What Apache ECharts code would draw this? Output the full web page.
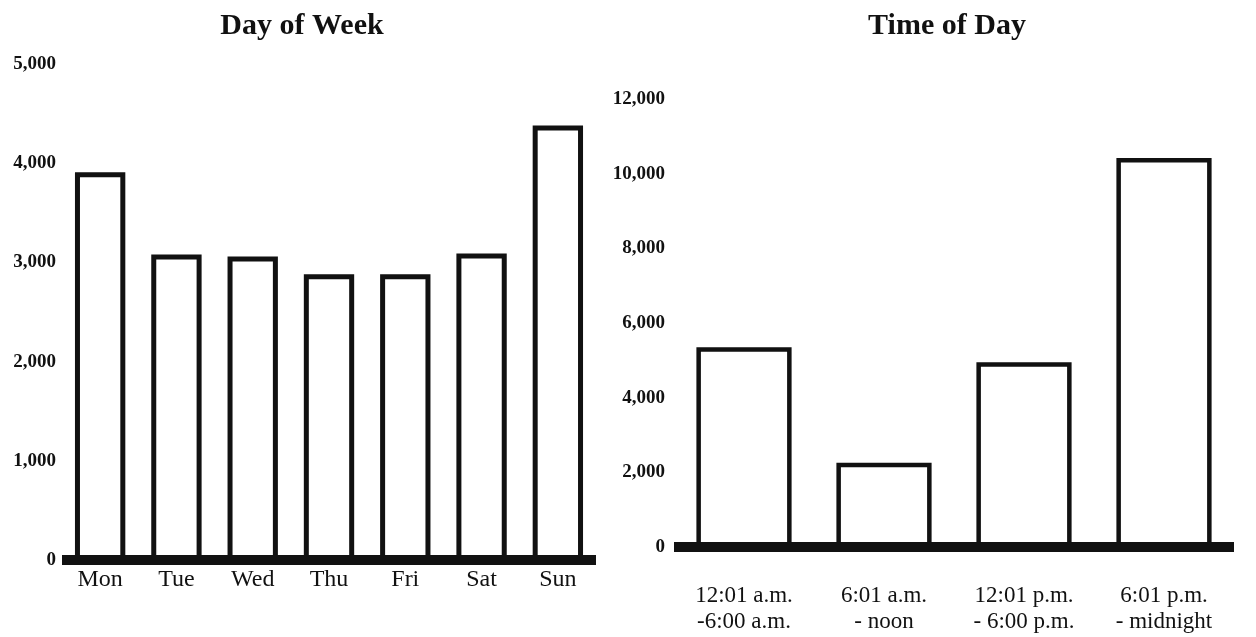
<!DOCTYPE html>
<html>
<head>
<meta charset="utf-8">
<script src="https://cdn.jsdelivr.net/npm/echarts@6/dist/echarts.min.js"></script>
<style>
html,body{margin:0;padding:0;background:#fff;}
#c{width:1256px;height:637px;}
</style>
</head>
<body>
<div id="c"></div>
<script>
const dayCategories = ['Mon', 'Tue', 'Wed', 'Thu', 'Fri', 'Sat', 'Sun'];
const dayValues = [3910, 3080, 3060, 2880, 2880, 3090, 4380];
const dayTicks = [0, 1000, 2000, 3000, 4000, 5000];

const timeCategories = ['12:01 a.m.\n-6:00 a.m.', '6:01 a.m.\n- noon', '12:01 p.m.\n- 6:00 p.m.', '6:01 p.m.\n- midnight'];
const timeValues = [5350, 2260, 4950, 10420];
const timeTicks = [0, 2000, 4000, 6000, 8000, 10000, 12000];

const serif = '"Liberation Serif", "DejaVu Serif", serif';
const fmt = v => v.toLocaleString('en-US');

const chart = echarts.init(document.getElementById('c'));
chart.setOption({
  backgroundColor: '#fff',
  animation: false,
  title: [
    { text: 'Day of Week', left: 297, top: 6, textAlign: 'center',
      textStyle: { fontFamily: serif, fontSize: 30, fontWeight: 'bold', color: '#111' } },
    { text: 'Time of Day', left: 942, top: 6, textAlign: 'center',
      textStyle: { fontFamily: serif, fontSize: 30, fontWeight: 'bold', color: '#111' } }
  ],
  grid: [
    { left: 62, width: 534, top: 64, height: 496 },
    { left: 674, width: 560, top: 99, height: 448 }
  ],
  xAxis: [
    { type: 'category', gridIndex: 0, data: dayCategories, z: 10,
      axisLine: { lineStyle: { color: '#111', width: 10, cap: 'butt' } },
      axisTick: { show: false },
      axisLabel: { fontFamily: serif, fontSize: 24, color: '#111', margin: 8 } },
    { type: 'category', gridIndex: 1, data: timeCategories, z: 10,
      axisLine: { lineStyle: { color: '#111', width: 10, cap: 'butt' } },
      axisTick: { show: false },
      axisLabel: { fontFamily: serif, fontSize: 23, color: '#111', margin: 36, lineHeight: 26 } }
  ],
  yAxis: [
    { type: 'value', gridIndex: 0, min: dayTicks[0], max: dayTicks[dayTicks.length - 1], interval: 1000,
      axisLine: { show: false }, axisTick: { show: false }, splitLine: { show: false },
      axisLabel: { fontFamily: serif, fontSize: 19, fontWeight: 'bold', color: '#111', margin: 6, formatter: fmt } },
    { type: 'value', gridIndex: 1, min: timeTicks[0], max: timeTicks[timeTicks.length - 1], interval: 2000,
      axisLine: { show: false }, axisTick: { show: false }, splitLine: { show: false },
      axisLabel: { fontFamily: serif, fontSize: 19, fontWeight: 'bold', color: '#111', margin: 9, formatter: fmt } }
  ],
  series: [
    { type: 'bar', xAxisIndex: 0, yAxisIndex: 0, data: dayValues, barWidth: '66%',
      itemStyle: { color: '#fff', borderColor: '#111', borderWidth: 5 } },
    { type: 'bar', xAxisIndex: 1, yAxisIndex: 1, data: timeValues, barWidth: '68%',
      itemStyle: { color: '#fff', borderColor: '#111', borderWidth: 4.5 } }
  ]
});
</script>
</body>
</html>
